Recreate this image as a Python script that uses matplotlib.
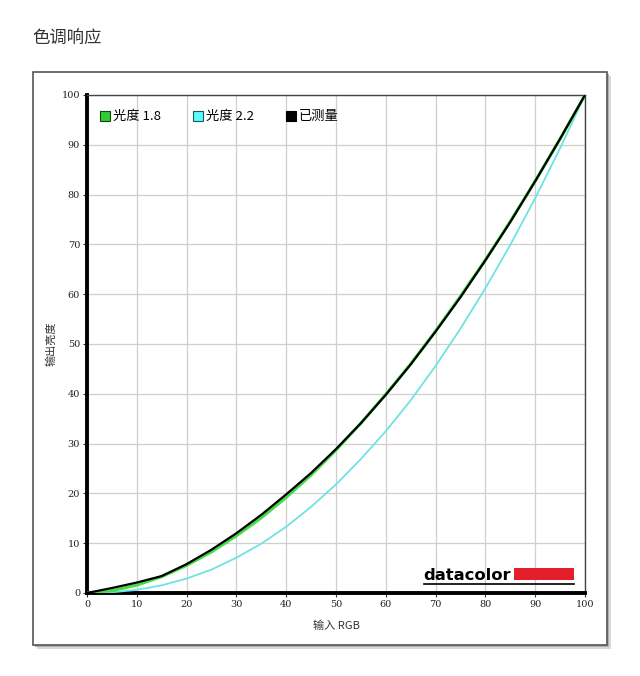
"""
色调响应 (tone response) chart
"""
import matplotlib
matplotlib.use('Agg')
import matplotlib.pyplot as plt
from matplotlib.patches import Rectangle
from matplotlib.lines import Line2D

plt.rcParams['font.family'] = ['Noto Sans CJK SC', 'DejaVu Sans']

# input RGB (%)
x_in = [0, 5, 10, 15, 20, 25, 30, 35, 40, 45, 50,
        55, 60, 65, 70, 75, 80, 85, 90, 95, 100]
# output luminance (%)
gamma18 = [0, 0.46, 1.58, 3.29, 5.54, 8.25, 11.5, 15.1, 19.2, 23.7, 28.7,
           34.1, 39.9, 46.0, 52.6, 59.6, 66.9, 74.6, 82.7, 91.2, 100]
gamma22 = [0, 0.14, 0.63, 1.54, 2.9, 4.7, 7.1, 9.9, 13.3, 17.3, 21.8,
           26.9, 32.5, 38.7, 45.6, 53.1, 61.2, 69.9, 79.3, 89.3, 100]
measured = [0, 1.0, 2.1, 3.4, 5.8, 8.7, 12.0, 15.7, 19.8, 24.1, 28.9,
            34.1, 39.8, 45.9, 52.5, 59.4, 66.8, 74.5, 82.7, 91.2, 100]
ticks = list(range(0, 101, 10))
labels = ['光度 1.8', '光度 2.2', '已测量']

W, H = 640, 676
fig = plt.figure(figsize=(W / 100, H / 100), dpi=100)

# framed panel with a soft shadow
for off, col in [(4, '#d8d8d8'), (2, '#b0b0b0')]:
    fig.patches.append(Rectangle(((33 + off) / W, 1 - (645 + off) / H),
                                 574 / W, 573 / H, transform=fig.transFigure,
                                 facecolor=col, edgecolor='none', zorder=0))
fig.patches.append(Rectangle((33 / W, 1 - 645 / H), 574 / W, 573 / H,
                             transform=fig.transFigure, facecolor='white',
                             edgecolor='#555555', linewidth=1.2, zorder=1))

fig.text(32 / W, 1 - 39 / H, '色调响应', fontsize=12.5, color='#333333',
         ha='left', va='center')

ax = fig.add_axes([87 / W, 1 - 593 / H, 498 / W, 498 / H])
ax.set_zorder(2)
ax.set_facecolor('white')

ax.plot(x_in, gamma22, color='#6fe3e3', linewidth=1.3, zorder=3)
ax.plot(x_in, gamma18, color='#44dd44', linewidth=2.2, zorder=4)
ax.plot(x_in, measured, color='black', linewidth=1.6, zorder=5)

ax.set_xlim(0, 100)
ax.set_ylim(0, 100)
ax.set_xticks(ticks)
ax.set_yticks(ticks)
ax.grid(True, color='#cfcfcf', linewidth=0.9)
ax.set_axisbelow(True)
ax.tick_params(length=3, width=0.8, color='#333333', pad=2,
               labelsize=7, labelcolor='#222222')
for lab in ax.get_xticklabels() + ax.get_yticklabels():
    lab.set_family(['DejaVu Serif'])

for side in ['left', 'bottom']:
    ax.spines[side].set_linewidth(2.8)
    ax.spines[side].set_color('black')
for side in ['top', 'right']:
    ax.spines[side].set_linewidth(1.0)
    ax.spines[side].set_color('#444444')

ax.set_xlabel('输入 RGB', fontsize=8, color='#333333', labelpad=8)
ax.set_ylabel('输出亮度', fontsize=8, color='#333333', labelpad=4)

handles = [Line2D([], [], linestyle='none', marker='s', markersize=6.5,
                  markerfacecolor=c, markeredgecolor=e, markeredgewidth=0.8)
           for c, e in [('#33cc33', '#114411'), ('#55ffff', '#225555'),
                        ('black', 'black')]]
ax.legend(handles, labels, loc='upper left', ncol=3, frameon=False,
          fontsize=9.5, handlelength=0.8, handletextpad=0.2,
          columnspacing=2.4, bbox_to_anchor=(0.01, 0.985), borderaxespad=0.2)

# datacolor logo
ax.text(0.676, 0.026, 'datacolor', transform=ax.transAxes, fontsize=11.8,
        fontweight='bold', color='black', ha='left', va='baseline',
        family=['DejaVu Sans'], zorder=6)
ax.add_patch(Rectangle((0.857, 0.026), 0.12, 0.024, transform=ax.transAxes,
                       facecolor='#e21f2b', edgecolor='none', zorder=6))
ax.plot([0.676, 0.977], [0.019, 0.019], transform=ax.transAxes,
        color='black', linewidth=1.2, zorder=6)

fig.savefig('out.png', dpi=100)
